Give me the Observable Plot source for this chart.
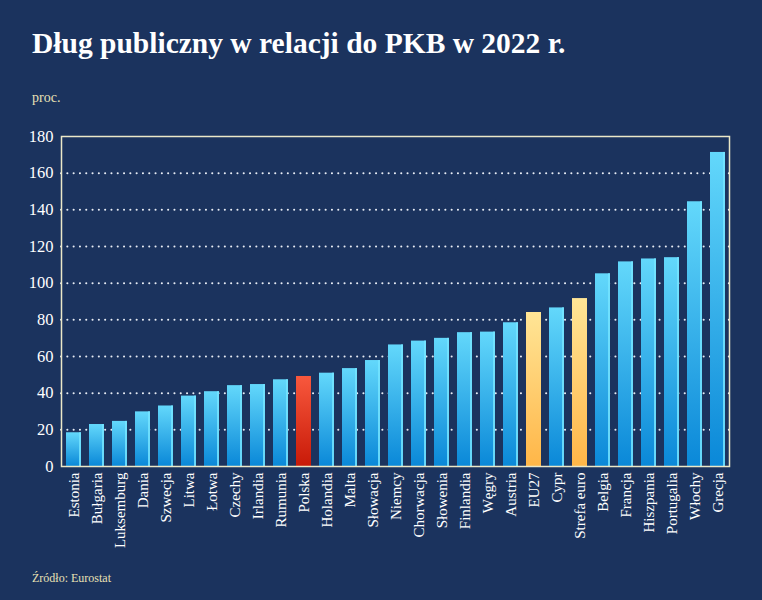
<!DOCTYPE html>
<html><head><meta charset="utf-8">
<script src="https://cdn.jsdelivr.net/npm/d3@7"></script>
<script src="https://cdn.jsdelivr.net/npm/@observablehq/plot@0.6"></script>
<style>
html,body{margin:0;padding:0;background:#1b335e;}
#wrap{position:relative;width:762px;height:600px;background:#1b335e;overflow:hidden;font-family:"Liberation Serif",serif;}
#title{position:absolute;left:32px;top:29px;font-size:29.5px;line-height:1;font-weight:bold;color:#ffffff;white-space:nowrap;}
#unit{position:absolute;left:32px;top:91px;font-size:14px;line-height:1;color:#e8e0b4;}
#source{position:absolute;left:32px;top:572px;font-size:12px;line-height:1;color:#e8e0b4;z-index:2;}
#chart{position:absolute;left:0;top:110px;}
</style>
</head><body>
<div id="wrap">
  <div id="title">Dług publiczny w relacji do PKB w 2022 r.</div>
  <div id="unit">proc.</div>
  <div id="chart"></div>
  <div id="source">Źródło: Eurostat</div>
</div>
<script>
const countries = ["Estonia","Bułgaria","Luksemburg","Dania","Szwecja","Litwa","Łotwa","Czechy","Irlandia","Rumunia","Polska","Holandia","Malta","Słowacja","Niemcy","Chorwacja","Słowenia","Finlandia","Węgry","Austria","EU27","Cypr","Strefa euro","Belgia","Francja","Hiszpania","Portugalia","Włochy","Grecja"];
const values = [18.4, 22.9, 24.6, 29.8, 33.0, 38.4, 40.8, 44.1, 44.7, 47.3, 49.1, 50.9, 53.4, 57.8, 66.3, 68.4, 69.9, 73.0, 73.3, 78.4, 84.0, 86.5, 91.6, 105.1, 111.6, 113.2, 113.9, 144.4, 171.3];
const groups = ["kraj","kraj","kraj","kraj","kraj","kraj","kraj","kraj","kraj","kraj","polska","kraj","kraj","kraj","kraj","kraj","kraj","kraj","kraj","kraj","srednia","kraj","srednia","kraj","kraj","kraj","kraj","kraj","kraj"];
const yTicks = [0, 20, 40, 60, 80, 100, 120, 140, 160, 180];
const gridTicks = [20, 40, 60, 80, 100, 120, 140, 160];

const data = countries.map((c, i) => ({country: c, value: values[i], group: groups[i]}));

const defs = () => {
  const ns = "http://www.w3.org/2000/svg";
  const d = document.createElementNS(ns, "defs");
  const mk = (id, stops) => {
    const g = document.createElementNS(ns, "linearGradient");
    g.setAttribute("id", id);
    g.setAttribute("x1", "0"); g.setAttribute("y1", "0");
    g.setAttribute("x2", "0"); g.setAttribute("y2", "1");
    stops.forEach(([o, c]) => {
      const s = document.createElementNS(ns, "stop");
      s.setAttribute("offset", o);
      s.setAttribute("stop-color", c);
      g.appendChild(s);
    });
    d.appendChild(g);
  };
  mk("gBlue", [["0", "#63d8fb"], ["1", "#0a88d8"]]);
  mk("gRed", [["0", "#f8583d"], ["1", "#c81a08"]]);
  mk("gYellow", [["0", "#ffe596"], ["1", "#ffb648"]]);
  return d;
};

const plot = Plot.plot({
  width: 762,
  height: 490,
  marginLeft: 61,
  marginRight: 33,
  marginTop: 26,
  marginBottom: 134,
  style: {background: "transparent", color: "#ffffff", fontFamily: "Liberation Serif, serif"},
  x: {domain: countries, paddingInner: 0.35, paddingOuter: 0.175, label: null},
  y: {domain: [0, 180], label: null},
  marks: [
    defs,
    Plot.ruleY(gridTicks, {stroke: "#e8ecf4", strokeWidth: 2, strokeDasharray: "0.1,6.2", strokeLinecap: "round"}),
    Plot.barY(data, {filter: d => d.group === "kraj", x: "country", y: "value", fill: "url(#gBlue)"}),
    Plot.barY(data, {filter: d => d.group === "kraj", x: "country", y: "value", fill: "#74e4ff", insetLeft: 13, fillOpacity: 0.85}),
    Plot.barY(data, {filter: d => d.group === "polska", x: "country", y: "value", fill: "url(#gRed)"}),
    Plot.barY(data, {filter: d => d.group === "srednia", x: "country", y: "value", fill: "url(#gYellow)"}),
    Plot.frame({stroke: "#ebe8c8", strokeWidth: 1.5}),
    Plot.axisY({ticks: yTicks, tickSize: 0, tickPadding: 8, fontSize: 16.5, fill: "#ffffff"}),
    Plot.axisX({tickRotate: -90, tickSize: 0, tickPadding: 6, fontSize: 15, fill: "#ffffff"})
  ]
});
document.getElementById("chart").appendChild(plot);
</script>
</body></html>
